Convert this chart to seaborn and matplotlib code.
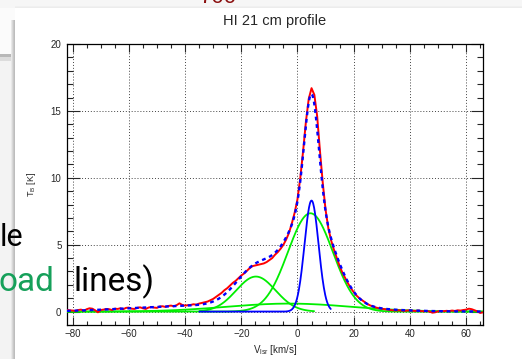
import numpy as np
import pandas as pd
import matplotlib
matplotlib.use("Agg")
import matplotlib.pyplot as plt
import seaborn as sns
from matplotlib.patches import Rectangle
from matplotlib.ticker import MultipleLocator

# ---------------- data ----------------
title = "HI 21 cm profile"
x_label = "V$_{lsr}$ [km/s]"
y_label = "T$_{B}$ [K]"

v_first = -82          # first channel velocity (km/s)
v_step = 1             # channel width (km/s)
tb_obs = [
    0.12, 0.10, 0.08, 0.05, 0.12, 0.15, 0.06, 0.18, 0.25, 0.22,
    0.10, -0.05, 0.12, 0.15, 0.20, 0.18, 0.12, 0.22, 0.20, 0.25,
    0.18, 0.28, 0.30, 0.22, 0.20, 0.28, 0.32, 0.25, 0.20, 0.30,
    0.35, 0.30, 0.28, 0.38, 0.40, 0.35, 0.42, 0.45, 0.40, 0.48,
    0.62, 0.50, 0.45, 0.48, 0.50, 0.55, 0.52, 0.60, 0.65, 0.70,
    0.75, 0.85, 0.95, 1.10, 1.25, 1.40, 1.60, 1.75, 1.95, 2.15,
    2.30, 2.50, 2.70, 2.85, 3.05, 3.25, 3.40, 3.45, 3.50, 3.55,
    3.60, 3.70, 3.85, 4.00, 4.25, 4.45, 4.70, 5.00, 5.40, 5.90,
    6.60, 7.40, 8.40, 10.0, 12.0, 14.2, 15.9, 16.7, 16.2, 14.6,
    12.0, 9.6, 7.6, 6.2, 5.3, 4.6, 4.0, 3.4, 2.9, 2.5,
    2.1, 1.75, 1.45, 1.20, 1.00, 0.85, 0.70, 0.55, 0.45, 0.38,
    0.30, 0.25, 0.22, 0.18, 0.15, 0.12, 0.10, 0.08, 0.10, 0.08,
    0.05, 0.08, 0.10, 0.06, 0.05, 0.08, 0.04, 0.02, 0.05, 0.00,
    -0.08, -0.05, 0.02, 0.05, 0.03, 0.06, 0.04, 0.08, 0.05, 0.10,
    0.08, 0.12, 0.15, 0.22, 0.18, 0.10, 0.02, -0.10, -0.05,
]

# Gaussian fit components (amplitude K, centre km/s, sigma km/s, drawn range, colour)
comp_amp = [7.35, 2.62, 0.60, 8.30, 0.30]
comp_center = [4.6, -14.8, -3.0, 5.0, -45.0]
comp_sigma = [8.0, 7.0, 22.0, 2.5, 20.0]
comp_vmin = [-82, -35, -82, -35, None]
comp_vmax = [66, 6, 66, 12, None]
comp_color = ["#00ee00", "#00ee00", "#00ee00", "#0000ff", None]

x_limits = (-82, 66)
y_limits = (-1, 20)

# ---------------- figure ----------------
sns.set_style("white")
plt.rcParams["font.family"] = ["Liberation Sans", "DejaVu Sans"]
plt.rcParams["mathtext.default"] = "regular"

W, H = 522, 359
fig = plt.figure(figsize=(W / 100, H / 100), dpi=100)
fig.patch.set_facecolor("white")


def px_rect(x0, y0, x1, y1, color, z=0):
    fig.patches.append(Rectangle((x0 / W, 1 - y1 / H), (x1 - x0) / W, (y1 - y0) / H,
                                 transform=fig.transFigure, facecolor=color,
                                 edgecolor="none", zorder=z))

# slide background behind the ROOT window
px_rect(0, 0, W, 8, "#f6f6f6")
px_rect(0, 8, 15, 54, "#fbfbfb")
px_rect(0, 54, 15, 57, "#b8b8b8")
px_rect(0, 57, 15, 61, "#dcdcdc")
px_rect(0, 61, 15, H, "#f3f3f3")
for i, c in enumerate(["#e8e8e8", "#d8d8d8", "#c8c8c8", "#bdbdbd"]):
    px_rect(11 + i, 20, 12 + i, H, c)
for i, c in enumerate(["#f0f0f0", "#ececec"]):
    px_rect(15, 6 + i, W, 7 + i, c)

ax = fig.add_axes([67 / W, 1 - 325 / H, (483 - 67) / W, (325 - 44) / H])
ax.set_facecolor("white")

vel = v_first + v_step * np.arange(len(tb_obs))
grid = np.linspace(x_limits[0], x_limits[1], 900)


def gauss(v, a, m, s):
    return a * np.exp(-0.5 * ((v - m) / s) ** 2)


fit_total = np.zeros_like(grid)
for a, m, s in zip(comp_amp, comp_center, comp_sigma):
    fit_total += gauss(grid, a, m, s)

# components
for a, m, s, lo, hi, col in zip(comp_amp, comp_center, comp_sigma, comp_vmin, comp_vmax, comp_color):
    if col is None:
        continue
    vv = grid[(grid >= lo) & (grid <= hi)]
    sns.lineplot(x=vv, y=gauss(vv, a, m, s), ax=ax, color=col, lw=1.3,
                 estimator=None, sort=False, zorder=3)

# observed spectrum
df_obs = pd.DataFrame({"v": vel, "tb": tb_obs})
sns.lineplot(data=df_obs, x="v", y="tb", ax=ax, color="#ff0000", lw=1.4,
             estimator=None, sort=False, zorder=4)
# total fit
sns.lineplot(x=grid, y=fit_total, ax=ax, color="#0000ff", lw=1.7,
             linestyle=(0, (1.6, 1.6)), estimator=None, sort=False, zorder=5)

ax.set_xlim(*x_limits)
ax.set_ylim(*y_limits)
ax.xaxis.set_major_locator(MultipleLocator(20))
ax.xaxis.set_minor_locator(MultipleLocator(5))
ax.yaxis.set_major_locator(MultipleLocator(5))
ax.yaxis.set_minor_locator(MultipleLocator(1))
ax.grid(True, which="major", color="#444444", lw=0.7, linestyle=(0, (1, 2)), zorder=1)
ax.set_axisbelow(True)

for sp in ax.spines.values():
    sp.set_color("black")
    sp.set_linewidth(0.9)

ax.tick_params(axis="x", which="major", direction="in", length=6, width=0.8,
               top=True, bottom=True, labelsize=7, pad=3)
ax.tick_params(axis="x", which="minor", direction="in", length=3, width=0.8,
               top=True, bottom=True)
ax.tick_params(axis="y", which="major", direction="in", length=9, width=0.8,
               left=True, right=True, labelsize=7, pad=4)
ax.tick_params(axis="y", which="minor", direction="in", length=4, width=0.8,
               left=True, right=True)

ax.set_xlabel(x_label, fontsize=7, labelpad=3)
ax.set_ylabel(y_label, fontsize=6.5, labelpad=9)
ax.set_title(title, fontsize=10.5, pad=14)

# overlaid slide text
fig.text(0 / W, 1 - 246 / H, "le", fontsize=22, family=["Roboto", "DejaVu Sans"],
         color="black", va="baseline", ha="left", zorder=10)
fig.text(-1 / W, 1 - 291 / H, "oad", fontsize=24, family=["Roboto", "DejaVu Sans"],
         color="#16a05a", va="baseline", ha="left", zorder=10)
fig.text(73 / W, 1 - 291 / H, "lines)", fontsize=24, family=["Roboto", "DejaVu Sans"],
         color="black", va="baseline", ha="left", zorder=10)
fig.text(218 / W, 1 - 3 / H, "700", fontsize=16, color="#8b1010",
         va="baseline", ha="center", zorder=10)

fig.savefig("out.png", dpi=100, facecolor=fig.get_facecolor())
